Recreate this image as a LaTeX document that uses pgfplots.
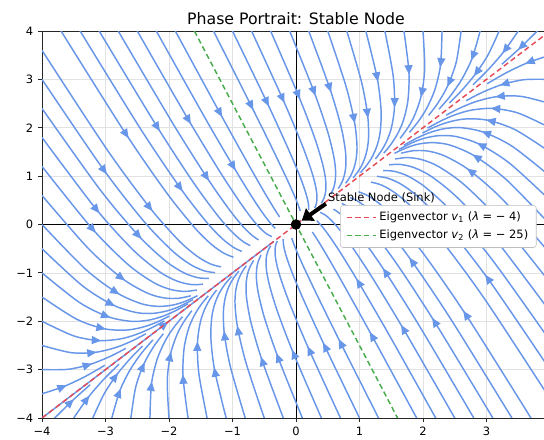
\documentclass[border=0pt]{standalone}
\usepackage{pgfplots}
\pgfplotsset{compat=1.18}
\usepackage{fontspec}
\setmainfont{DejaVu Sans}
\usetikzlibrary{arrows.meta}
\definecolor{streamblue}{RGB}{104,150,232}
\definecolor{eigred}{RGB}{230,76,88}
\definecolor{eiggreen}{RGB}{72,172,76}
\definecolor{gridgray}{RGB}{226,226,226}
\pgfplotsset{
  stream/.style={color=streamblue, line width=1.1pt, smooth, no markers, forget plot},
}
\begin{document}
\begin{tikzpicture}
\useasboundingbox (-31.5pt,-16.5pt) rectangle (376.5pt,313.5pt);
\clip (-31.5pt,-16.5pt) rectangle (376.5pt,313.5pt);
\begin{axis}[
  at={(0,0)}, anchor=south west, scale only axis,
  width=381pt, height=290.25pt,
  xmin=-4, xmax=4, ymin=-4, ymax=4,
  xtick={-4,-3,-2,-1,0,1,2,3,4}, ytick={-4,-3,-2,-1,0,1,2,3,4},
  xticklabels={−4,−3,−2,−1,0,1,2,3,{}},
  yticklabels={−4,−3,−2,−1,0,1,2,3,4},
  tick pos=left, tick align=outside, major tick length=3pt,
  grid=major, grid style={color=gridgray, line width=0.5pt},
  axis line style={line width=0.6pt, black!85},
  tick style={black!85, line width=0.6pt},
  tick label style={font=\fontsize{8.6}{10}\selectfont},
  title={Phase Portrait: Stable Node},
  title style={at={(0.5,1)}, anchor=base, yshift=-1.1pt, font=\fontsize{11.8}{14}\selectfont},
  legend style={at={(0.587,0.55)}, anchor=north west, draw=black!25, fill=white,
    rounded corners=2pt,
    font=\fontsize{8.6}{10.3}\selectfont, row sep=1.5pt, inner xsep=4pt, inner ysep=3pt},
  legend cell align=left,
]
% axes through origin
\addplot[forget plot, black, line width=0.6pt] coordinates {(-4,0) (4,0)};
\addplot[forget plot, black, line width=0.6pt] coordinates {(0,-4) (0,4)};

% ---- family F1: from top edge, above red line ----
\addplot[stream] coordinates {(-1.3,4) (-0.711,2.469) (-0.349,1.506) (-0.137,0.923) (-0.029,0.607) (0.034,0.405) (0.067,0.28)};
\addplot[stream] coordinates {(-1,4) (-0.462,2.538) (-0.138,1.612) (0.046,1.046) (0.134,0.734) (0.18,0.53) (0.199,0.399) (0.201,0.301)};
\addplot[stream] coordinates {(-0.7,4) (-0.213,2.607) (0.074,1.719) (0.228,1.169) (0.297,0.861) (0.326,0.655) (0.330,0.518) (0.317,0.411) (0.294,0.341)};
\addplot[stream] coordinates {(-0.4,4) (0.036,2.676) (0.285,1.825) (0.411,1.291) (0.460,0.988) (0.472,0.780) (0.462,0.638) (0.433,0.521) (0.398,0.442)};
\addplot[stream] coordinates {(-0.1,4) (0.284,2.744) (0.496,1.931) (0.594,1.414) (0.623,1.115) (0.618,0.905) (0.593,0.757) (0.550,0.632)};
\addplot[stream] coordinates {(0.2,4) (0.533,2.813) (0.707,2.037) (0.777,1.537) (0.786,1.242) (0.764,1.030) (0.725,0.877) (0.666,0.742)};
\addplot[stream] coordinates {(0.5,4) (0.782,2.882) (0.918,2.143) (0.960,1.660) (0.949,1.369) (0.910,1.155) (0.856,0.996) (0.782,0.852)};
\addplot[stream] coordinates {(0.8,4) (1.031,2.951) (1.129,2.249) (1.142,1.782) (1.111,1.495) (1.056,1.280) (0.988,1.116) (0.899,0.963)};
\addplot[stream] coordinates {(1.1,4) (1.280,3.020) (1.340,2.355) (1.325,1.905) (1.274,1.622) (1.202,1.405) (1.119,1.235) (1.015,1.073)};
\addplot[stream] coordinates {(1.4,4) (1.529,3.089) (1.552,2.462) (1.508,2.028) (1.437,1.749) (1.348,1.530) (1.251,1.355)};
\addplot[stream] coordinates {(1.7,4) (1.778,3.158) (1.763,2.568) (1.691,2.151) (1.600,1.876) (1.494,1.655) (1.382,1.474)};
\addplot[stream] coordinates {(2,4) (2.027,3.227) (1.974,2.674) (1.873,2.273) (1.763,2.003) (1.640,1.780)};
\addplot[stream] coordinates {(2.3,4) (2.276,3.296) (2.185,2.780) (2.056,2.396) (1.926,2.130) (1.787,1.906)};
\addplot[stream] coordinates {(2.6,4) (2.525,3.365) (2.396,2.886) (2.239,2.519) (2.089,2.257)};
\addplot[stream] coordinates {(2.9,4) (2.773,3.433) (2.607,2.992) (2.422,2.642) (2.252,2.384)};
\addplot[stream] coordinates {(3.2,4) (3.022,3.502) (2.819,3.099) (2.605,2.765) (2.415,2.511)};
\addplot[stream] coordinates {(3.5,4) (3.271,3.571) (3.030,3.205) (2.787,2.887)};
\addplot[stream] coordinates {(3.8,4) (3.52,3.64) (3.241,3.311)};
% mirrored F1: from bottom edge, below red line
\addplot[stream] coordinates {(1.3,-4) (0.711,-2.469) (0.349,-1.506) (0.137,-0.923) (0.029,-0.607) (-0.034,-0.405) (-0.067,-0.28)};
\addplot[stream] coordinates {(1,-4) (0.462,-2.538) (0.138,-1.612) (-0.046,-1.046) (-0.134,-0.734) (-0.18,-0.53) (-0.199,-0.399) (-0.201,-0.301)};
\addplot[stream] coordinates {(0.7,-4) (0.213,-2.607) (-0.074,-1.719) (-0.228,-1.169) (-0.297,-0.861) (-0.326,-0.655) (-0.330,-0.518) (-0.317,-0.411) (-0.294,-0.341)};
\addplot[stream] coordinates {(0.4,-4) (-0.036,-2.676) (-0.285,-1.825) (-0.411,-1.291) (-0.460,-0.988) (-0.472,-0.780) (-0.462,-0.638) (-0.433,-0.521) (-0.398,-0.442)};
\addplot[stream] coordinates {(0.1,-4) (-0.284,-2.744) (-0.496,-1.931) (-0.594,-1.414) (-0.623,-1.115) (-0.618,-0.905) (-0.593,-0.757) (-0.550,-0.632)};
\addplot[stream] coordinates {(-0.2,-4) (-0.533,-2.813) (-0.707,-2.037) (-0.777,-1.537) (-0.786,-1.242) (-0.764,-1.030) (-0.725,-0.877) (-0.666,-0.742)};
\addplot[stream] coordinates {(-0.5,-4) (-0.782,-2.882) (-0.918,-2.143) (-0.960,-1.660) (-0.949,-1.369) (-0.910,-1.155) (-0.856,-0.996) (-0.782,-0.852)};
\addplot[stream] coordinates {(-0.8,-4) (-1.031,-2.951) (-1.129,-2.249) (-1.142,-1.782) (-1.111,-1.495) (-1.056,-1.280) (-0.988,-1.116) (-0.899,-0.963)};
\addplot[stream] coordinates {(-1.1,-4) (-1.280,-3.020) (-1.340,-2.355) (-1.325,-1.905) (-1.274,-1.622) (-1.202,-1.405) (-1.119,-1.235) (-1.015,-1.073)};
\addplot[stream] coordinates {(-1.4,-4) (-1.529,-3.089) (-1.552,-2.462) (-1.508,-2.028) (-1.437,-1.749) (-1.348,-1.530) (-1.251,-1.355)};
\addplot[stream] coordinates {(-1.7,-4) (-1.778,-3.158) (-1.763,-2.568) (-1.691,-2.151) (-1.600,-1.876) (-1.494,-1.655) (-1.382,-1.474)};
\addplot[stream] coordinates {(-2,-4) (-2.027,-3.227) (-1.974,-2.674) (-1.873,-2.273) (-1.763,-2.003) (-1.640,-1.780)};
\addplot[stream] coordinates {(-2.3,-4) (-2.276,-3.296) (-2.185,-2.780) (-2.056,-2.396) (-1.926,-2.130) (-1.787,-1.906)};
\addplot[stream] coordinates {(-2.6,-4) (-2.525,-3.365) (-2.396,-2.886) (-2.239,-2.519) (-2.089,-2.257)};
\addplot[stream] coordinates {(-2.9,-4) (-2.773,-3.433) (-2.607,-2.992) (-2.422,-2.642) (-2.252,-2.384)};
\addplot[stream] coordinates {(-3.2,-4) (-3.022,-3.502) (-2.819,-3.099) (-2.605,-2.765) (-2.415,-2.511)};
\addplot[stream] coordinates {(-3.5,-4) (-3.271,-3.571) (-3.030,-3.205) (-2.787,-2.887)};
\addplot[stream] coordinates {(-3.8,-4) (-3.52,-3.64) (-3.241,-3.311)};

% ---- family F2: from right and bottom edges, below red line ----
\addplot[stream] coordinates {(4,3.5) (3.64,3.34) (3.311,3.136) (3.010,2.910)};
\addplot[stream] coordinates {(4,3) (3.594,2.994) (3.240,2.890) (2.928,2.728) (2.680,2.560)};
\addplot[stream] coordinates {(4,2.5) (3.548,2.648) (3.169,2.644) (2.846,2.546) (2.595,2.415) (2.364,2.259)};
\addplot[stream] coordinates {(4,2) (3.502,2.302) (3.099,2.399) (2.765,2.365) (2.511,2.271) (2.281,2.141) (2.072,1.992)};
\addplot[stream] coordinates {(4,1.5) (3.456,1.956) (3.028,2.153) (2.683,2.183) (2.426,2.126) (2.197,2.022) (1.992,1.892)};
\addplot[stream] coordinates {(4,1) (3.411,1.611) (2.957,1.907) (2.601,2.001) (2.342,1.982) (2.114,1.904) (1.912,1.792) (1.698,1.638)};
\addplot[stream] coordinates {(4,0.5) (3.365,1.265) (2.886,1.661) (2.519,1.819) (2.257,1.837) (2.031,1.786) (1.833,1.693) (1.624,1.554)};
\addplot[stream] coordinates {(4,0) (3.319,0.919) (2.815,1.415) (2.437,1.637) (2.172,1.692) (1.947,1.667) (1.753,1.593) (1.551,1.471)};
\addplot[stream] coordinates {(4,-0.6) (3.264,0.504) (2.731,1.121) (2.339,1.419) (2.071,1.519) (1.847,1.525) (1.657,1.473)};
\addplot[stream] coordinates {(4,-1.2) (3.208,0.088) (2.646,0.826) (2.241,1.201) (1.969,1.345) (1.747,1.383) (1.562,1.354)};
\addplot[stream] coordinates {(4,-1.8) (3.153,-0.327) (2.561,0.531) (2.143,0.983) (1.868,1.172) (1.647,1.241) (1.466,1.234)};
\addplot[stream] coordinates {(4,-2.4) (3.098,-0.742) (2.476,0.236) (2.044,0.764) (1.766,0.998) (1.547,1.099) (1.371,1.115)};
\addplot[stream] coordinates {(4,-3) (3.043,-1.157) (2.391,-0.059) (1.946,0.546) (1.665,0.825) (1.447,0.957) (1.275,0.995)};
\addplot[stream] coordinates {(4,-3.6) (2.988,-1.572) (2.306,-0.354) (1.848,0.328) (1.563,0.651) (1.347,0.815) (1.180,0.876)};
\addplot[stream] coordinates {(3.7,-4) (2.702,-1.918) (2.038,-0.657) (1.600,0.060) (1.333,0.409) (1.134,0.595) (0.984,0.676)};
\addplot[stream] coordinates {(3.4,-4) (2.453,-1.987) (1.827,-0.763) (1.417,-0.063) (1.170,0.282) (0.988,0.470) (0.853,0.557)};
\addplot[stream] coordinates {(3.1,-4) (2.204,-2.056) (1.616,-0.869) (1.234,-0.186) (1.007,0.155) (0.842,0.345) (0.721,0.437)};
\addplot[stream] coordinates {(2.8,-4) (1.956,-2.125) (1.405,-0.975) (1.051,-0.309) (0.844,0.028) (0.696,0.220) (0.590,0.318)};
\addplot[stream] coordinates {(2.5,-4) (1.707,-2.193) (1.194,-1.082) (0.868,-0.432) (0.681,-0.099) (0.550,0.095) (0.458,0.198) (0.381,0.251)};
\addplot[stream] coordinates {(2.2,-4) (1.458,-2.262) (0.982,-1.188) (0.686,-0.554) (0.518,-0.226) (0.404,-0.030) (0.327,0.079)};
\addplot[stream] coordinates {(1.9,-4) (1.209,-2.331) (0.771,-1.294) (0.503,-0.677) (0.355,-0.353) (0.258,-0.155)};
% mirrored F2: from left and top edges, above red line
\addplot[stream] coordinates {(-4,-3.5) (-3.64,-3.34) (-3.311,-3.136) (-3.010,-2.910)};
\addplot[stream] coordinates {(-4,-3) (-3.594,-2.994) (-3.240,-2.890) (-2.928,-2.728) (-2.680,-2.560)};
\addplot[stream] coordinates {(-4,-2.5) (-3.548,-2.648) (-3.169,-2.644) (-2.846,-2.546) (-2.595,-2.415) (-2.364,-2.259)};
\addplot[stream] coordinates {(-4,-2) (-3.502,-2.302) (-3.099,-2.399) (-2.765,-2.365) (-2.511,-2.271) (-2.281,-2.141) (-2.072,-1.992)};
\addplot[stream] coordinates {(-4,-1.5) (-3.456,-1.956) (-3.028,-2.153) (-2.683,-2.183) (-2.426,-2.126) (-2.197,-2.022) (-1.992,-1.892)};
\addplot[stream] coordinates {(-4,-1) (-3.411,-1.611) (-2.957,-1.907) (-2.601,-2.001) (-2.342,-1.982) (-2.114,-1.904) (-1.912,-1.792) (-1.698,-1.638)};
\addplot[stream] coordinates {(-4,-0.5) (-3.365,-1.265) (-2.886,-1.661) (-2.519,-1.819) (-2.257,-1.837) (-2.031,-1.786) (-1.833,-1.693) (-1.624,-1.554)};
\addplot[stream] coordinates {(-4,0) (-3.319,-0.919) (-2.815,-1.415) (-2.437,-1.637) (-2.172,-1.692) (-1.947,-1.667) (-1.753,-1.593) (-1.551,-1.471)};
\addplot[stream] coordinates {(-4,0.6) (-3.264,-0.504) (-2.731,-1.121) (-2.339,-1.419) (-2.071,-1.519) (-1.847,-1.525) (-1.657,-1.473)};
\addplot[stream] coordinates {(-4,1.2) (-3.208,-0.088) (-2.646,-0.826) (-2.241,-1.201) (-1.969,-1.345) (-1.747,-1.383) (-1.562,-1.354)};
\addplot[stream] coordinates {(-4,1.8) (-3.153,0.327) (-2.561,-0.531) (-2.143,-0.983) (-1.868,-1.172) (-1.647,-1.241) (-1.466,-1.234)};
\addplot[stream] coordinates {(-4,2.4) (-3.098,0.742) (-2.476,-0.236) (-2.044,-0.764) (-1.766,-0.998) (-1.547,-1.099) (-1.371,-1.115)};
\addplot[stream] coordinates {(-4,3) (-3.043,1.157) (-2.391,0.059) (-1.946,-0.546) (-1.665,-0.825) (-1.447,-0.957) (-1.275,-0.995)};
\addplot[stream] coordinates {(-4,3.6) (-2.988,1.572) (-2.306,0.354) (-1.848,-0.328) (-1.563,-0.651) (-1.347,-0.815) (-1.180,-0.876)};
\addplot[stream] coordinates {(-3.7,4) (-2.702,1.918) (-2.038,0.657) (-1.600,-0.060) (-1.333,-0.409) (-1.134,-0.595) (-0.984,-0.676)};
\addplot[stream] coordinates {(-3.4,4) (-2.453,1.987) (-1.827,0.763) (-1.417,0.063) (-1.170,-0.282) (-0.988,-0.470) (-0.853,-0.557)};
\addplot[stream] coordinates {(-3.1,4) (-2.204,2.056) (-1.616,0.869) (-1.234,0.186) (-1.007,-0.155) (-0.842,-0.345) (-0.721,-0.437)};
\addplot[stream] coordinates {(-2.8,4) (-1.956,2.125) (-1.405,0.975) (-1.051,0.309) (-0.844,-0.028) (-0.696,-0.220) (-0.590,-0.318)};
\addplot[stream] coordinates {(-2.5,4) (-1.707,2.193) (-1.194,1.082) (-0.868,0.432) (-0.681,0.099) (-0.550,-0.095) (-0.458,-0.198) (-0.381,-0.251)};
\addplot[stream] coordinates {(-2.2,4) (-1.458,2.262) (-0.982,1.188) (-0.686,0.554) (-0.518,0.226) (-0.404,0.030) (-0.327,-0.079)};
\addplot[stream] coordinates {(-1.9,4) (-1.209,2.331) (-0.771,1.294) (-0.503,0.677) (-0.355,0.353) (-0.258,0.155)};
% along the slow eigenvector (lower left)
\addplot[stream] coordinates {(-4,-4) (-0.35,-0.35)};

% arrowheads on the streamlines (position x y, direction u v)
\addplot[forget plot, streamblue, line width=1.1pt, -{Triangle[length=7pt,width=6pt]},
  quiver={u=\thisrow{u}, v=\thisrow{v}}] table {
x y u v
-0.711 2.469 0.038 -0.0998
-0.462 2.538 0.0345 -0.0955
-0.213 2.607 0.031 -0.091
0.036 2.676 0.0274 -0.087
0.284 2.744 0.0238 -0.0828
0.533 2.813 0.0203 -0.0785
0.918 2.143 0.0071 -0.0489
1.129 2.249 0.0044 -0.0468
1.280 3.020 0.0096 -0.0658
1.552 2.462 -0.0008 -0.0424
1.778 3.158 0.0025 -0.0573
1.974 2.674 -0.0062 -0.0382
2.276 3.296 -0.0046 -0.0488
2.396 2.886 -0.0114 -0.0338
2.773 3.433 -0.0117 -0.0403
2.819 3.099 -0.0167 -0.0295
3.271 3.571 -0.0188 -0.0318
3.52 3.64 -0.0224 -0.0276
3.64 3.34 -0.0276 -0.0146
3.240 2.890 -0.0266 -0.0106
3.169 2.644 -0.0281 -0.0041
3.099 2.399 -0.0295 0.0025
3.028 2.153 -0.0309 0.0091
2.957 1.907 -0.0324 0.0156
2.886 1.661 -0.0338 0.0222
2.815 1.415 -0.0353 0.0287
2.731 1.121 -0.037 0.0366
3.208 0.088 -0.0542 0.081
3.153 -0.327 -0.0576 0.0932
2.476 0.236 -0.0422 0.0602
3.043 -1.157 -0.0644 0.1176
2.306 -0.354 -0.0456 0.076
2.702 -1.918 -0.0665 0.1337
1.827 -0.763 -0.0414 0.077
2.204 -2.056 -0.0594 0.1252
1.405 -0.975 -0.0362 0.0726
1.707 -2.193 -0.0522 0.1167
0.982 -1.188 -0.0309 0.0683
1.209 -2.331 -0.0452 0.1082
0.711 -2.469 -0.038 0.0998
0.462 -2.538 -0.0345 0.0955
0.213 -2.607 -0.031 0.091
-0.036 -2.676 -0.0274 0.087
-0.284 -2.744 -0.0238 0.0828
-0.533 -2.813 -0.0203 0.0785
-0.918 -2.143 -0.0071 0.0489
-1.129 -2.249 -0.0044 0.0468
-1.280 -3.020 -0.0096 0.0658
-1.552 -2.462 0.0008 0.0424
-1.778 -3.158 -0.0025 0.0573
-1.974 -2.674 0.0062 0.0382
-2.276 -3.296 0.0046 0.0488
-2.396 -2.886 0.0114 0.0338
-2.773 -3.433 0.0117 0.0403
-2.819 -3.099 0.0167 0.0295
-3.271 -3.571 0.0188 0.0318
-3.52 -3.64 0.0224 0.0276
-3.64 -3.34 0.0276 0.0146
-3.240 -2.890 0.0266 0.0106
-3.169 -2.644 0.0281 0.0041
-3.099 -2.399 0.0295 -0.0025
-3.028 -2.153 0.0309 -0.0091
-2.957 -1.907 0.0324 -0.0156
-2.886 -1.661 0.0338 -0.0222
-2.815 -1.415 0.0353 -0.0287
-2.731 -1.121 0.037 -0.0366
-3.208 -0.088 0.0542 -0.081
-3.153 0.327 0.0576 -0.0932
-2.476 -0.236 0.0422 -0.0602
-3.043 1.157 0.0644 -0.1176
-2.306 0.354 0.0456 -0.076
-2.702 1.918 0.0665 -0.1337
-1.827 0.763 0.0414 -0.077
-2.204 2.056 0.0594 -0.1252
-1.405 0.975 0.0362 -0.0726
-1.707 2.193 0.0522 -0.1167
-0.982 1.188 0.0309 -0.0683
-1.209 2.331 0.0452 -0.1082
-2.05 -2.05 0.04 0.04
};

% eigenvector lines
\addplot[draw=eigred, color=eigred, line width=1.1pt, dash pattern=on 4pt off 2.5pt,
  legend image code/.code={\draw[draw=eigred, line width=1.3pt, dash pattern=on 4pt off 2.5pt] (0pt,0pt) -- (18pt,0pt); \path (0pt,0pt) -- (22pt,0pt);}]
  coordinates {(-4,-4) (4,4)};
\addlegendentry{Eigenvector \textit{v}\textsubscript{1} (\textit{λ} = − 4)}
\addplot[draw=eiggreen, color=eiggreen, line width=1.1pt, dash pattern=on 4pt off 2.5pt,
  legend image code/.code={\draw[draw=eiggreen, line width=1.3pt, dash pattern=on 4pt off 2.5pt] (0pt,0pt) -- (18pt,0pt); \path (0pt,0pt) -- (22pt,0pt);}]
  coordinates {(-1.6,4) (1.6,-4)};
\addlegendentry{Eigenvector \textit{v}\textsubscript{2} (\textit{λ} = − 25)}

% fixed point and annotation
\addplot[forget plot, only marks, mark=*, mark size=3.7pt, black] coordinates {(0,0)};
\draw[black, line width=3pt, -{Triangle[length=8pt,width=11pt]}] (axis cs:0.47,0.43) -- (axis cs:0.09,0.08);
\node[anchor=base west, font=\fontsize{8.6}{10}\selectfont, inner sep=0pt] at (axis cs:0.50,0.475) {Stable Node (Sink)};
\end{axis}
\end{tikzpicture}
\end{document}
